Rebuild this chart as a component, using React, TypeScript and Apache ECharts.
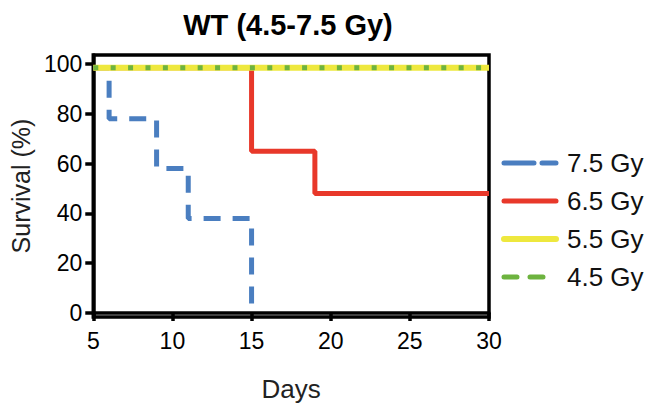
import React, { useEffect, useRef } from "react";
import * as echarts from "echarts";

const seriesNames = ["7.5 Gy", "6.5 Gy", "5.5 Gy", "4.5 Gy"];
const days75 = [5, 6, 9, 11, 15];
const surv75 = [98.5, 78, 58, 38, 0];
const days65 = [5, 15, 19, 30];
const surv65 = [98.5, 65, 48, 48];
const days55 = [5, 30];
const surv55 = [98.5, 98.5];
const days45 = [5, 30];
const surv45 = [98.5, 98.5];
const yTicks = [0, 20, 40, 60, 80, 100];

const FONT = "Liberation Sans, Arial, Helvetica, sans-serif";

function pairs(xs: number[], ys: number[]) {
  return xs.map((x, i) => [x, ys[i]]);
}

export default function App() {
  const ref = useRef<HTMLDivElement>(null);
  useEffect(() => {
    if (!ref.current) return;
    const chart = echarts.init(ref.current, undefined, { renderer: "svg" });
    chart.setOption({
      animation: false,
      backgroundColor: "#fff",
      textStyle: { fontFamily: FONT, color: "#000" },
      title: {
        text: "WT (4.5-7.5 Gy)",
        left: 283,
        textAlign: "center",
        top: 5,
        textStyle: { fontFamily: FONT, fontSize: 29, fontWeight: "bold", color: "#000" },
      },
      grid: {
        left: 93,
        right: 159,
        top: 55,
        bottom: 94,
        show: true,
        borderColor: "#000",
        borderWidth: 3.5,
        backgroundColor: "transparent",
      },
      legend: {
        orient: "vertical",
        left: 496,
        top: 145,
        itemWidth: 52,
        itemHeight: 14,
        itemGap: 12,
        itemStyle: { opacity: 0 },
        textStyle: { fontFamily: FONT, fontSize: 26, color: "#111", padding: [0, 0, 0, 6] },
        data: [
          { name: seriesNames[0], lineStyle: { width: 5, type: [30, 8], cap: "round" } },
          { name: seriesNames[1], lineStyle: { width: 5, cap: "round" } },
          { name: seriesNames[2], lineStyle: { width: 6, cap: "round" } },
          { name: seriesNames[3], lineStyle: { width: 5, type: [13, 13], cap: "round" } },
        ],
      },
      xAxis: {
        type: "value",
        min: 5,
        max: 30,
        interval: 5,
        name: "Days",
        nameLocation: "middle",
        nameGap: 59,
        nameTextStyle: { fontFamily: FONT, fontSize: 26, color: "#222" },
        splitLine: { show: false },
        axisLine: { show: true, lineStyle: { color: "#000", width: 3.5 } },
        axisTick: { show: true, length: 8, lineStyle: { color: "#000", width: 3.5 } },
        axisLabel: { fontFamily: FONT, fontSize: 23, color: "#000", margin: 12 },
      },
      yAxis: {
        type: "value",
        min: -1.6,
        max: 103.6,
        name: "Survival (%)",
        nameLocation: "middle",
        nameGap: 52,
        nameTextStyle: { fontFamily: FONT, fontSize: 25, color: "#222" },
        splitLine: { show: false },
        axisLine: { show: true, lineStyle: { color: "#000", width: 3.5 } },
        axisTick: { show: true, length: 8, customValues: yTicks, lineStyle: { color: "#000", width: 3.5 } },
        axisLabel: { fontFamily: FONT, fontSize: 23, color: "#000", margin: 11, customValues: yTicks },
      },
      series: [
        {
          name: seriesNames[0],
          type: "line",
          step: "end",
          symbol: "none",
          data: pairs(days75, surv75),
          color: "#4A7EC0",
          lineStyle: { color: "#4A7EC0", width: 5, type: [17, 12], cap: "butt" },
        },
        {
          name: seriesNames[1],
          type: "line",
          step: "end",
          symbol: "none",
          data: pairs(days65, surv65),
          color: "#E8382A",
          lineStyle: { color: "#E8382A", width: 5, type: "solid" },
        },
        {
          name: seriesNames[2],
          type: "line",
          step: "end",
          symbol: "none",
          data: pairs(days55, surv55),
          color: "#EEE83E",
          lineStyle: { color: "#EEE83E", width: 6, type: "solid" },
        },
        {
          name: seriesNames[3],
          type: "line",
          step: "end",
          symbol: "none",
          data: pairs(days45, surv45),
          color: "#6DB33F",
          lineStyle: { color: "#6DB33F", width: 5, type: [5, 12.4], cap: "butt" },
        },
      ],
    });
    return () => chart.dispose();
  }, []);
  return <div ref={ref} style={{ width: 648, height: 411, position: "absolute", left: 0, top: 0 }} />;
}
